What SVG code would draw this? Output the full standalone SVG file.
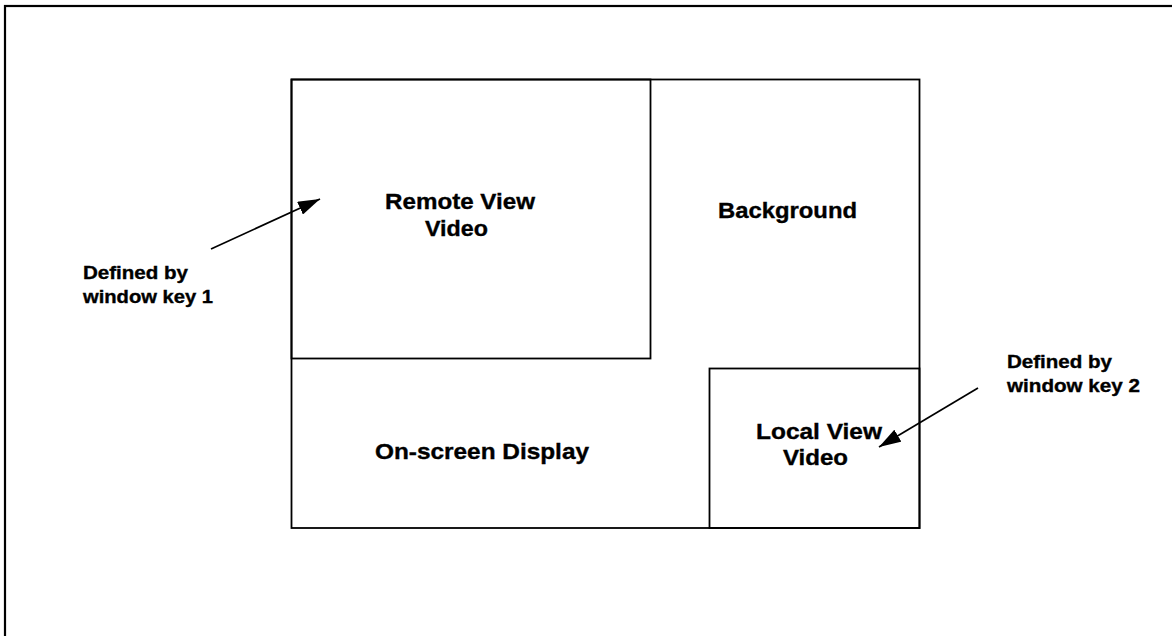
<svg xmlns="http://www.w3.org/2000/svg" width="1172" height="636" viewBox="0 0 1172 636">
<style>
.box{fill:none;stroke:#000;stroke-width:1.8}
.frame{fill:none;stroke:#000;stroke-width:2.2}
.lbl{font-family:"Liberation Sans",Arial,sans-serif;font-weight:bold;fill:#000;stroke:#000;stroke-width:0.35}
.big{font-size:21.5px}
.small{font-size:17.5px}
.conn{stroke:#000;stroke-width:1.7;fill:none}
</style>
<defs>
<marker id="ah" viewBox="0 0 22 14" refX="22" refY="7" markerWidth="22" markerHeight="14" markerUnits="userSpaceOnUse" orient="auto">
<path d="M0,0 L22,7 L0,14 z" fill="#000"/>
</marker>
</defs>
<rect x="0" y="0" width="1172" height="636" fill="#fff"/>
<rect class="frame" x="5" y="6" width="1200" height="700"/>
<g id="screen">
<rect class="box" x="291.5" y="79.5" width="628" height="448.5"/>
<text class="lbl big" x="718" y="218" textLength="139" lengthAdjust="spacingAndGlyphs">Background</text>
</g>
<g id="remote-view">
<rect class="box" x="291.5" y="79.5" width="359" height="279"/>
<text class="lbl big" x="385" y="209" textLength="150" lengthAdjust="spacingAndGlyphs">Remote View</text>
<text class="lbl big" x="425" y="236" textLength="63" lengthAdjust="spacingAndGlyphs">Video</text>
</g>
<g id="osd">
<text class="lbl big" x="375" y="459" textLength="214" lengthAdjust="spacingAndGlyphs">On-screen Display</text>
</g>
<g id="local-view">
<rect class="box" x="709.5" y="368.5" width="210" height="159.5"/>
<text class="lbl big" x="756" y="439" textLength="126" lengthAdjust="spacingAndGlyphs">Local View</text>
<text class="lbl big" x="783" y="465" textLength="65" lengthAdjust="spacingAndGlyphs">Video</text>
</g>
<g id="label-key1">
<text class="lbl small" x="83" y="279" textLength="105" lengthAdjust="spacingAndGlyphs">Defined by</text>
<text class="lbl small" x="83" y="303" textLength="130" lengthAdjust="spacingAndGlyphs">window key 1</text>
</g>
<g id="label-key2">
<text class="lbl small" x="1007" y="368" textLength="105" lengthAdjust="spacingAndGlyphs">Defined by</text>
<text class="lbl small" x="1007" y="392" textLength="133" lengthAdjust="spacingAndGlyphs">window key 2</text>
</g>
<g id="connectors">
<line class="conn" x1="211" y1="249" x2="320" y2="199" marker-end="url(#ah)"/>
<line class="conn" x1="978" y1="388" x2="879" y2="447" marker-end="url(#ah)"/>
</g>
</svg>
